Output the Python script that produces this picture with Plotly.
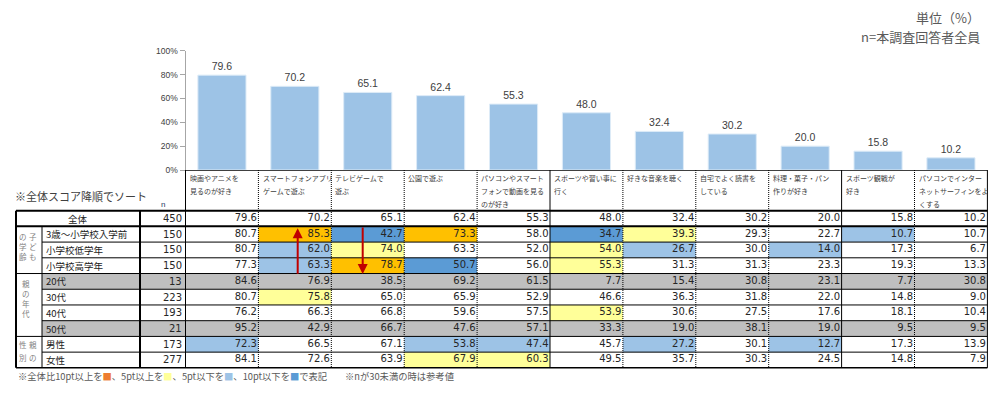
import plotly.graph_objects as go

W, H = 994, 394

# ---------------- data ----------------
categories = [
    ["映画やアニメを", "見るのが好き"],
    ["スマートフォンアプリ", "ゲームで遊ぶ"],
    ["テレビゲームで", "遊ぶ"],
    ["公園で遊ぶ"],
    ["パソコンやスマート", "フォンで動画を見る", "のが好き"],
    ["スポーツや習い事に", "行く"],
    ["好きな音楽を聴く"],
    ["自宅でよく読書を", "している"],
    ["料理・菓子・パン", "作りが好き"],
    ["スポーツ観戦が", "好き"],
    ["パソコンでインター", "ネットサーフィンをよ", "くする"],
]
overall = [79.6, 70.2, 65.1, 62.4, 55.3, 48.0, 32.4, 30.2, 20.0, 15.8, 10.2]
y_ticks = [0, 20, 40, 60, 80, 100]
y_tick_labels = ["0%", "20%", "40%", "60%", "80%", "100%"]

row_labels = ["全体", "3歳～小学校入学前", "小学校低学年", "小学校高学年",
              "20代", "30代", "40代", "50代", "男性", "女性"]
row_n = [450, 150, 150, 150, 13, 223, 193, 21, 173, 277]

child_preschool = [80.7, 85.3, 42.7, 73.3, 58.0, 34.7, 39.3, 29.3, 22.7, 10.7, 10.7]
child_lower = [80.7, 62.0, 74.0, 63.3, 52.0, 54.0, 26.7, 30.0, 14.0, 17.3, 6.7]
child_upper = [77.3, 63.3, 78.7, 50.7, 56.0, 55.3, 31.3, 31.3, 23.3, 19.3, 13.3]
parent_20s = [84.6, 76.9, 38.5, 69.2, 61.5, 7.7, 15.4, 30.8, 23.1, 7.7, 30.8]
parent_30s = [80.7, 75.8, 65.0, 65.9, 52.9, 46.6, 36.3, 31.8, 22.0, 14.8, 9.0]
parent_40s = [76.2, 66.3, 66.8, 59.6, 57.5, 53.9, 30.6, 27.5, 17.6, 18.1, 10.4]
parent_50s = [95.2, 42.9, 66.7, 47.6, 57.1, 33.3, 19.0, 38.1, 19.0, 9.5, 9.5]
parent_male = [72.3, 66.5, 67.1, 53.8, 47.4, 45.7, 27.2, 30.1, 12.7, 17.3, 13.9]
parent_female = [84.1, 72.6, 63.9, 67.9, 60.3, 49.5, 35.7, 30.3, 24.5, 14.8, 7.9]

table_rows = [overall, child_preschool, child_lower, child_upper,
              parent_20s, parent_30s, parent_40s, parent_50s,
              parent_male, parent_female]

# ---------------- style / geometry ----------------
JP = "Noto Sans CJK JP"
NUM = "Liberation Sans"
BAR_C = "#9DC3E6"
C_HI2, C_HI1, C_LO1, C_LO2 = "#FFC000", "#FFFF99", "#9DC3E6", "#5B9BD5"
GRAY = "#BFBFBF"

def px(x):
    return x / W

def py(y):
    return 1 - y / H

X0, X1 = 185.5, 987.4          # table / plot horizontal extent
COLW = (X1 - X0) / 11
Y_TOP, Y_BOT = 211.0, 372.3    # table rows
ROWH = (Y_BOT - Y_TOP) / 10
Y0PCT, Y100PCT = 169.3, 47.0   # bar axis

def row_y(k):
    return Y_TOP + ROWH * k

fig = go.Figure()

xs = list(range(len(overall)))
fig.add_trace(go.Bar(
    x=xs, y=overall, width=0.66,
    marker=dict(color=BAR_C, line=dict(color="#DDEBF7", width=1)),
    texttemplate="%{y:.1f}", textposition="outside",
    textfont=dict(family=NUM, size=10.5, color="#404040"),
    cliponaxis=False, xaxis="x", yaxis="y", hoverinfo="skip",
))

# table values as text trace on the table axis
tx, ty, tt = [], [], []
for r, vals in enumerate(table_rows):
    for c, v in enumerate(vals):
        tx.append(c + 0.48)
        ty.append(r)
        tt.append(f"{v:.1f}")
fig.add_trace(go.Scatter(
    x=tx, y=ty, text=tt, mode="text", textposition="middle left",
    textfont=dict(family="DejaVu Sans", size=10, color="#262626"),
    xaxis="x", yaxis="y2", cliponaxis=False, hoverinfo="skip", showlegend=False,
))

shapes = []
annotations = []

# gray rows (n < 30)
for r, n in enumerate(row_n):
    if n < 30:
        shapes.append(dict(type="rect", xref="paper", yref="paper",
                           x0=px(42), x1=px(X1), y0=py(row_y(r + 1)), y1=py(row_y(r)),
                           fillcolor=GRAY, line=dict(width=0), layer="below"))

# coloured cells by difference vs overall
for r, vals in enumerate(table_rows):
    if r == 0 or row_n[r] < 30:
        continue
    for c, v in enumerate(vals):
        d = round(v - overall[c], 1)
        col = None
        if d >= 10:
            col = C_HI2
        elif d >= 5:
            col = C_HI1
        elif d <= -10:
            col = C_LO2
        elif d <= -5:
            col = C_LO1
        if col:
            shapes.append(dict(type="rect", xref="x", yref="y2",
                               x0=c - 0.5, x1=c + 0.5, y0=r - 0.5, y1=r + 0.5,
                               fillcolor=col, line=dict(width=0), layer="below"))

def hline(y, xa, xb, w=1):
    shapes.append(dict(type="line", xref="paper", yref="paper",
                       x0=px(xa), x1=px(xb), y0=py(y), y1=py(y),
                       line=dict(color="#000000", width=w)))

def vline(x, ya, yb, w=1, dash="solid"):
    shapes.append(dict(type="line", xref="paper", yref="paper",
                       x0=px(x), x1=px(x), y0=py(ya), y1=py(yb),
                       line=dict(color="#000000", width=w, dash=dash)))

hline(Y_TOP, 16, X1, 2)
hline(row_y(1), 16, X1, 2)
for k in range(2, 10):
    start = 16 if k in (4, 8) else 42
    hline(row_y(k), start, X1, 1)
hline(Y_BOT, 16, X1, 1.5)

vline(16, Y_TOP, Y_BOT, 2)
vline(42, row_y(1), Y_BOT, 1)
vline(140, Y_TOP, Y_BOT, 2)
for k in range(12):
    x = X0 + COLW * k
    if k in (0, 5, 9, 11):
        vline(x, Y0PCT, Y_BOT, 1)
    else:
        vline(x, Y0PCT, Y_BOT, 1, "1px,1px")

# category labels
for i, lines in enumerate(categories):
    for j, line in enumerate(lines):
        annotations.append(dict(
            x=i - 0.47, xref="x", y=py(178 + 13.3 * j), yref="paper",
            text=line, showarrow=False, xanchor="left", yanchor="middle",
            font=dict(family=JP, size=7, color="#404040")))

# row labels and n
for r, lab in enumerate(row_labels):
    if r == 0:
        annotations.append(dict(x=px(78), xref="paper", y=r, yref="y2", text=lab,
                                showarrow=False, xanchor="center", yanchor="middle",
                                font=dict(family=JP, size=9.5, color="#222222")))
    else:
        annotations.append(dict(x=px(44), xref="paper", y=r, yref="y2", text=lab,
                                showarrow=False, xanchor="left", yanchor="middle",
                                font=dict(family=JP, size=9.5, color="#222222")))
    annotations.append(dict(x=px(184), xref="paper", y=r, yref="y2", text=str(row_n[r]),
                            showarrow=False, xanchor="right", yanchor="middle",
                            font=dict(family="DejaVu Sans", size=10, color="#262626")))

# vertical group labels
group_chars = [
    ("子", 33, 238), ("ど", 33, 248), ("も", 33, 258),
    ("の", 22.5, 238), ("学", 22.5, 248), ("齢", 22.5, 258),
    ("親", 26, 286), ("の", 26, 296.5), ("年", 26, 306.5), ("代", 26, 316.5),
    ("親", 33, 348), ("の", 33, 361.5),
    ("性", 22.5, 348), ("別", 22.5, 361.5),
]
for ch, x, y in group_chars:
    annotations.append(dict(x=px(x), xref="paper", y=py(y), yref="paper", text=ch,
                            showarrow=False, xanchor="center", yanchor="middle",
                            font=dict(family=JP, size=7.5, color="#7F7F7F")))

# header texts
annotations += [
    dict(x=px(982), y=py(13), xref="paper", yref="paper", text="単位（%）",
         showarrow=False, xanchor="right", yanchor="middle",
         font=dict(family=JP, size=13, color="#595959")),
    dict(x=px(982), y=py(32), xref="paper", yref="paper", text="n=本調査回答者全員",
         showarrow=False, xanchor="right", yanchor="middle",
         font=dict(family=JP, size=13, color="#595959")),
    dict(x=px(13), y=py(196), xref="paper", yref="paper", text="※全体スコア降順でソート",
         showarrow=False, xanchor="left", yanchor="middle",
         font=dict(family=JP, size=11, color="#404040")),
    dict(x=px(163), y=py(205), xref="paper", yref="paper", text="n",
         showarrow=False, xanchor="center", yanchor="middle",
         font=dict(family=NUM, size=8, color="#1F3864")),
    dict(x=px(16), y=py(381), xref="paper", yref="paper",
         text=("※全体比10pt以上を<span style='color:#ED7D31'>■</span>、5pt以上を"
               "<span style='color:#FFFF99'>■</span>、5pt以下を"
               "<span style='color:#9DC3E6'>■</span>、10pt以下を"
               "<span style='color:#5B9BD5'>■</span>で表記"),
         showarrow=False, xanchor="left", yanchor="middle",
         font=dict(family=JP, size=9.3, color="#595959")),
    dict(x=px(343), y=py(381), xref="paper", yref="paper", text="※nが30未満の時は参考値",
         showarrow=False, xanchor="left", yanchor="middle",
         font=dict(family=JP, size=9.3, color="#595959")),
]

# red arrows
annotations += [
    dict(x=px(297.7), y=py(229), xref="paper", yref="paper", ax=0, ay=47,
         text="", showarrow=True, arrowhead=2, arrowsize=1, arrowwidth=2,
         arrowcolor="#C00000"),
    dict(x=px(362.7), y=py(276), xref="paper", yref="paper", ax=0, ay=-48,
         text="", showarrow=True, arrowhead=2, arrowsize=1, arrowwidth=2,
         arrowcolor="#C00000"),
]

fig.update_layout(
    width=W, height=H, autosize=False,
    margin=dict(l=0, r=0, t=0, b=0),
    paper_bgcolor="white", plot_bgcolor="rgba(0,0,0,0)",
    showlegend=False,
    xaxis=dict(domain=[px(X0), px(X1)], range=[-0.5, 10.5], anchor="y",
               showticklabels=False, ticks="", showgrid=False, zeroline=False,
               showline=True, linecolor="#404040", linewidth=1, fixedrange=True),
    yaxis=dict(domain=[py(Y0PCT), py(Y100PCT)], range=[0, 100], anchor="x",
               tickmode="array", tickvals=y_ticks, ticktext=y_tick_labels,
               ticks="outside", ticklen=5, tickcolor="#A6A6A6",
               showline=True, linecolor="#A6A6A6", linewidth=1,
               showgrid=False, zeroline=False,
               tickfont=dict(family=NUM, size=8.5, color="#404040"), fixedrange=True),
    yaxis2=dict(domain=[py(Y_BOT), py(Y_TOP)], range=[9.5, -0.5], anchor="x",
                visible=False, fixedrange=True),
    shapes=shapes,
    annotations=annotations,
)

fig.write_html(
    "out.html",
    config={"displayModeBar": False},
    post_script="document.body.style.margin='0';document.body.style.padding='0';",
)
